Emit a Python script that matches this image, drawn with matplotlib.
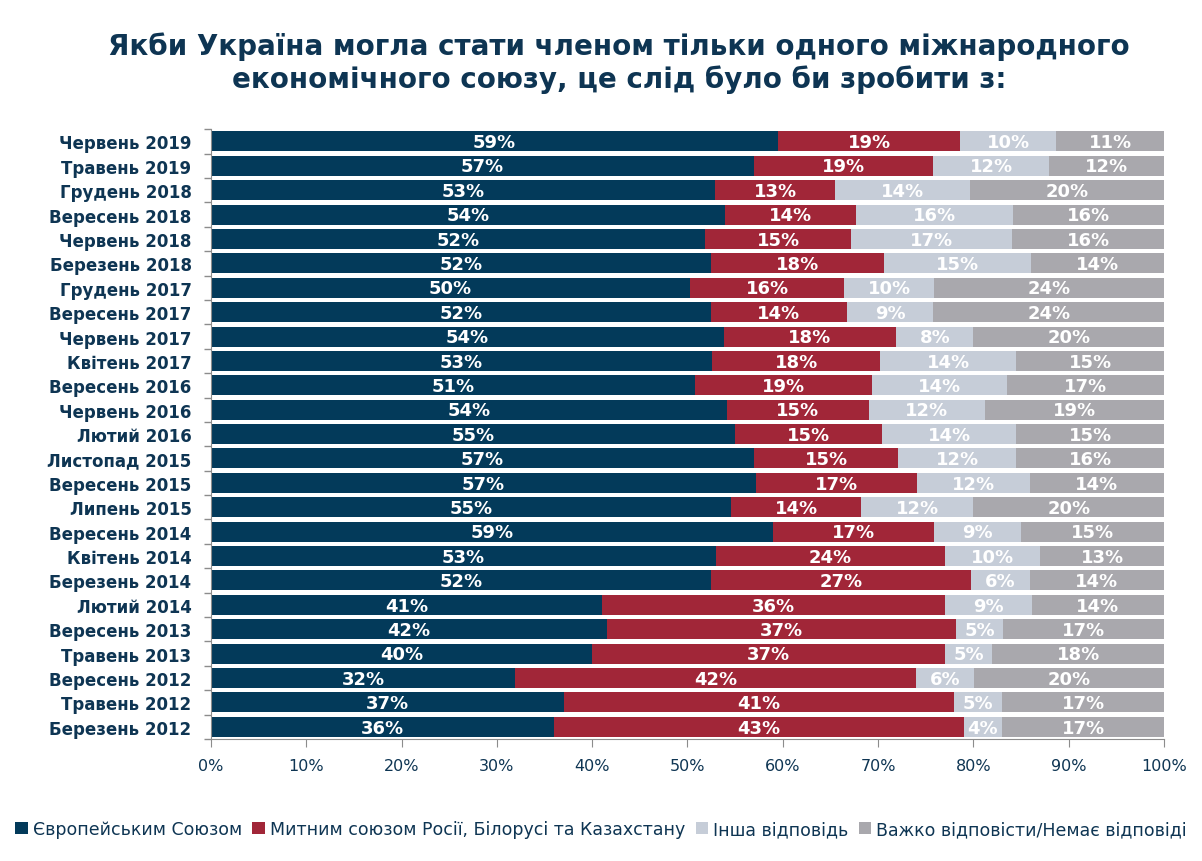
import numpy as np
import matplotlib
matplotlib.use('Agg')
import matplotlib.pyplot as plt
from matplotlib.ticker import FixedLocator, FuncFormatter
from matplotlib.patches import Patch

plt.rcParams['font.family'] = ['DejaVu Sans']

# Survey waves (top to bottom as drawn)
waves = ['Червень 2019', 'Травень 2019', 'Грудень 2018', 'Вересень 2018',
         'Червень 2018', 'Березень 2018', 'Грудень 2017', 'Вересень 2017',
         'Червень 2017', 'Квітень 2017', 'Вересень 2016', 'Червень 2016',
         'Лютий 2016', 'Листопад 2015', 'Вересень 2015', 'Липень 2015',
         'Вересень 2014', 'Квітень 2014', 'Березень 2014', 'Лютий 2014',
         'Вересень 2013', 'Травень 2013', 'Вересень 2012', 'Травень 2012',
         'Березень 2012']

# segment widths (%)
eu = [59.5, 57.0, 52.9, 53.9, 51.8, 52.5, 50.3, 52.5, 53.8, 52.6, 50.8, 54.1,
      55.0, 57.0, 57.2, 54.6, 59.0, 53.0, 52.5, 41.0, 41.6, 40.0, 31.9, 37.0, 36.0]
cu = [19.1, 18.8, 12.6, 13.8, 15.4, 18.1, 16.1, 14.2, 18.1, 17.6, 18.6, 14.9,
      15.4, 15.1, 16.9, 13.6, 16.9, 24.0, 27.3, 36.0, 36.6, 37.0, 42.1, 41.0, 43.0]
other = [10.1, 12.1, 14.1, 16.5, 16.9, 15.4, 9.5, 9.1, 8.1, 14.3, 14.1, 12.2,
         14.1, 12.4, 11.8, 11.8, 9.1, 10.0, 6.1, 9.1, 4.9, 5.0, 6.1, 5.0, 4.0]
hard = [11.3, 12.1, 20.4, 15.8, 15.9, 14.0, 24.1, 24.2, 20.0, 15.5, 16.5, 18.8,
        15.5, 15.5, 14.1, 20.0, 15.0, 13.0, 14.1, 13.9, 16.9, 18.0, 19.9, 17.0, 17.0]

# printed labels
eu_lbl = [59, 57, 53, 54, 52, 52, 50, 52, 54, 53, 51, 54, 55, 57, 57, 55, 59, 53, 52, 41, 42, 40, 32, 37, 36]
cu_lbl = [19, 19, 13, 14, 15, 18, 16, 14, 18, 18, 19, 15, 15, 15, 17, 14, 17, 24, 27, 36, 37, 37, 42, 41, 43]
other_lbl = [10, 12, 14, 16, 17, 15, 10, 9, 8, 14, 14, 12, 14, 12, 12, 12, 9, 10, 6, 9, 5, 5, 6, 5, 4]
hard_lbl = [11, 12, 20, 16, 16, 14, 24, 24, 20, 15, 17, 19, 15, 16, 14, 20, 15, 13, 14, 14, 17, 18, 20, 17, 17]

names = ['Європейським Союзом', 'Митним союзом Росії, Білорусі та Казахстану',
         'Інша відповідь', 'Важко відповісти/Немає відповіді']
colors = ['#033a5a', '#a12638', '#c6cdd8', '#a9a8ad']
navy = '#0e3553'

fig = plt.figure(figsize=(12.02, 8.62), dpi=100)
ax = fig.add_axes([0.1755, 0.1415, 0.7929, 0.7075])

y = np.arange(len(waves))
left = np.zeros(len(waves))
for vals, lbls, col in zip([eu, cu, other, hard], [eu_lbl, cu_lbl, other_lbl, hard_lbl], colors):
    vals = np.array(vals)
    ax.barh(y, vals, left=left, height=0.82, color=col, edgecolor='none')
    for yi, (l, v, t) in enumerate(zip(left, vals, lbls)):
        ax.text(l + v / 2, yi + 0.03, f'{t}%', ha='center', va='center', color='white',
                fontsize=13, fontweight='bold', family=['Liberation Sans Narrow', 'DejaVu Sans'])
    left = left + vals

ax.set_xlim(0, 100)
ax.set_ylim(len(waves) - 0.5, -0.5)
ax.set_yticks(y)
ax.set_yticklabels(waves, fontsize=12, fontweight='bold', color=navy)
ax.yaxis.set_minor_locator(FixedLocator(np.arange(-0.5, len(waves), 1)))
ax.tick_params(axis='y', which='major', length=0, pad=14)
ax.tick_params(axis='y', which='minor', length=5, color='#8c8c8c', width=1)
ax.set_xticks(np.arange(0, 101, 10))
ax.xaxis.set_major_formatter(FuncFormatter(lambda v, p: f'{v:.0f}%'))
ax.tick_params(axis='x', length=6, color='#8c8c8c', labelsize=11.5, labelcolor=navy, pad=8)
for s in ['top', 'right']:
    ax.spines[s].set_visible(False)
for s in ['left', 'bottom']:
    ax.spines[s].set_color('#8c8c8c')

fig.text(0.515, 0.927, 'Якби Україна могла стати членом тільки одного міжнародного\nекономічного союзу, це слід було би зробити з:',
         ha='center', va='center', fontsize=20, fontweight='bold', color=navy, linespacing=1.2)

handles = [Patch(facecolor=c, edgecolor='none') for c in colors]
fig.legend(handles, names, loc='center', bbox_to_anchor=(0.5, 0.037), ncol=4, frameon=False,
           handlelength=0.7, handleheight=0.7, handletextpad=0.3, columnspacing=0.6,
           prop={'size': 12.5}, labelcolor=navy)

plt.savefig('out.png', dpi=100)
